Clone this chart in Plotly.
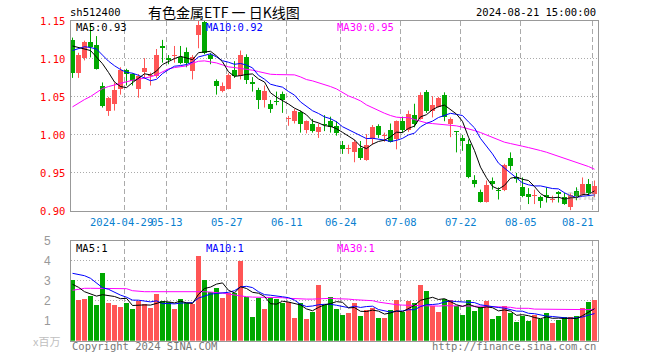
import plotly.graph_objects as go
import pandas as pd

# ---------------- data ----------------
days = {
    "2024-04": [16, 17, 18, 19, 22, 23, 24, 25, 26, 29, 30],
    "2024-05": [6, 7, 8, 9, 10, 13, 14, 15, 16, 17, 20, 21, 22, 23, 24, 27, 28, 29, 30, 31],
    "2024-06": [3, 4, 5, 6, 7, 11, 12, 13, 14, 17, 18, 19, 20, 21, 24, 25, 26, 27, 28],
    "2024-07": [1, 2, 3, 4, 5, 8, 9, 10, 11, 12, 15, 16, 17, 18, 19, 22, 23, 24, 25, 26, 29, 30, 31],
    "2024-08": [1, 2, 5, 6, 7, 8, 9, 12, 13, 14, 15, 16, 19, 20, 21],
}
dates = [f"{m}-{d:02d}" for m, ds in days.items() for d in ds]

open_ = [1.125, 1.081, 1.101, 1.122, 1.118, 1.065, 1.031, 1.041, 1.061, 1.085,
         1.080, 1.061, 1.083, 1.077, 1.078, 1.117, 1.101, 1.104, 1.103, 1.109,
         1.084, 1.132, 1.149, 1.105, 1.071, 1.058, 1.061, 1.086, 1.078, 1.103,
         1.070, 1.059, 1.046, 1.041, 1.044, 1.054, 1.021, 1.018, 1.030, 1.007,
         1.015, 1.004, 1.014, 1.018, 1.012, 0.987, 0.981, 0.977, 0.983, 0.967,
         0.994, 1.012, 0.998, 1.007, 0.994, 1.018, 1.006, 1.026, 1.021, 1.057,
         1.032, 1.037, 1.053, 1.014, 1.005, 0.996, 0.988, 0.941, 0.925, 0.912,
         0.939, 0.928, 0.927, 0.970, 0.944, 0.932, 0.922, 0.920, 0.918, 0.921,
         0.915, 0.925, 0.918, 0.905, 0.926, 0.921, 0.935, 0.922]
close = [1.082, 1.105, 1.122, 1.116, 1.087, 1.038, 1.048, 1.059, 1.086, 1.080,
         1.071, 1.077, 1.088, 1.079, 1.105, 1.114, 1.099, 1.105, 1.094, 1.094,
         1.103, 1.145, 1.108, 1.100, 1.064, 1.064, 1.079, 1.078, 1.105, 1.072,
         1.067, 1.046, 1.058, 1.034, 1.043, 1.046, 1.022, 1.031, 1.015, 1.018,
         1.005, 1.010, 1.013, 1.010, 1.003, 0.981, 0.982, 0.991, 0.969, 0.987,
         1.010, 1.000, 0.999, 0.991, 1.018, 1.007, 1.028, 1.014, 1.052, 1.032,
         1.040, 1.048, 1.024, 1.021, 1.004, 0.992, 0.944, 0.936, 0.912, 0.934,
         0.935, 0.926, 0.961, 0.959, 0.942, 0.920, 0.918, 0.921, 0.913, 0.918,
         0.916, 0.922, 0.909, 0.921, 0.920, 0.935, 0.923, 0.933]
high = [1.128, 1.108, 1.124, 1.146, 1.130, 1.069, 1.050, 1.069, 1.089, 1.087,
        1.081, 1.080, 1.101, 1.082, 1.113, 1.125, 1.105, 1.117, 1.117, 1.115,
        1.105, 1.150, 1.150, 1.108, 1.073, 1.069, 1.081, 1.097, 1.111, 1.106,
        1.076, 1.062, 1.065, 1.046, 1.057, 1.057, 1.025, 1.034, 1.032, 1.019,
        1.021, 1.015, 1.026, 1.024, 1.018, 0.992, 0.987, 0.994, 0.992, 1.001,
        1.013, 1.014, 1.003, 1.015, 1.019, 1.024, 1.032, 1.041, 1.056, 1.059,
        1.051, 1.050, 1.056, 1.023, 1.005, 1.000, 0.994, 0.947, 0.928, 0.940,
        0.944, 0.931, 0.962, 0.977, 0.950, 0.944, 0.930, 0.928, 0.920, 0.931,
        0.920, 0.926, 0.924, 0.923, 0.931, 0.944, 0.942, 0.940]
low = [1.075, 1.075, 1.098, 1.102, 1.086, 1.036, 1.025, 1.032, 1.053, 1.065,
       1.065, 1.049, 1.075, 1.065, 1.075, 1.095, 1.093, 1.095, 1.093, 1.089,
       1.073, 1.114, 1.106, 1.093, 1.053, 1.056, 1.060, 1.075, 1.073, 1.067,
       1.057, 1.034, 1.036, 1.029, 1.039, 1.029, 1.012, 1.015, 1.003, 1.002,
       1.003, 0.996, 1.005, 1.003, 0.999, 0.975, 0.975, 0.964, 0.967, 0.966,
       0.987, 0.996, 0.991, 0.990, 0.981, 1.003, 1.004, 1.010, 1.020, 1.029,
       1.023, 1.036, 1.018, 0.997, 0.977, 0.979, 0.943, 0.931, 0.911, 0.911,
       0.928, 0.915, 0.926, 0.953, 0.937, 0.918, 0.909, 0.909, 0.904, 0.911,
       0.911, 0.911, 0.908, 0.901, 0.914, 0.920, 0.920, 0.918]
volume = [3.03, 2.03, 2.08, 2.23, 1.78, 3.38, 1.88, 1.78, 1.68, 1.88,
          1.58, 1.98, 1.83, 1.63, 2.33, 1.98, 1.93, 1.58, 2.08, 1.88,
          1.83, 4.23, 3.03, 2.43, 2.63, 2.13, 2.38, 2.38, 3.98, 2.18,
          1.18, 2.15, 1.58, 2.15, 2.08, 1.90, 1.95, 1.13, 1.88, 1.08,
          1.45, 2.78, 1.78, 2.18, 1.58, 1.28, 1.38, 1.88, 1.23, 1.53,
          1.63, 1.13, 1.13, 1.52, 2.03, 1.43, 1.98, 1.88, 2.78, 2.48,
          1.73, 1.43, 2.08, 2.03, 1.73, 1.28, 2.03, 1.48, 1.68, 1.98,
          1.08, 1.23, 1.73, 1.38, 0.93, 1.23, 0.98, 1.28, 1.08, 1.38,
          0.88, 1.03, 1.18, 1.18, 1.23, 1.63, 1.93, 2.03]

# moving averages whose history lies before the window
ma5_head = [1.117, 1.115, 1.114, 1.111]
ma10_head = [1.111, 1.114, 1.116, 1.115, 1.113, 1.105, 1.097, 1.091, 1.086]
ma30 = [1.0369, 1.0421, 1.0465, 1.0505, 1.0562, 1.0610, 1.0636, 1.0658, 1.0676, 1.0697,
        1.0719, 1.0733, 1.0746, 1.0763, 1.0790, 1.0833, 1.0869, 1.0886, 1.0899, 1.0908,
        1.0943, 1.0969, 1.0974, 1.0965, 1.0947, 1.0921, 1.0895, 1.0886, 1.0877, 1.0864,
        1.0851, 1.0833, 1.0816, 1.0798, 1.0794, 1.0790, 1.0790, 1.0790, 1.0763, 1.0728,
        1.0711, 1.0689, 1.0667, 1.0636, 1.0605, 1.0557, 1.0513, 1.0483, 1.0448, 1.0395,
        1.0355, 1.0316, 1.0285, 1.0255, 1.0233, 1.0228, 1.0228, 1.0202, 1.0176, 1.0158,
        1.0149, 1.0141, 1.0136, 1.0132, 1.0119, 1.0101, 1.0083, 1.0057, 1.0031, 1.0000,
        0.9965, 0.9934, 0.9904, 0.9886, 0.9873, 0.9851, 0.9833, 0.9816, 0.9794, 0.9772,
        0.9746, 0.9719, 0.9693, 0.9671, 0.9641, 0.9614, 0.9584, 0.9548]
vma5_head = [2.82, 2.67, 2.45, 2.32]
vma10_head = [3.37, 3.32, 3.25, 3.12, 2.87, 2.65, 2.57, 2.42, 2.28]
vma30 = [2.52, 2.57, 2.62, 2.62, 2.62, 2.62, 2.62, 2.62, 2.62, 2.60,
         2.50, 2.47, 2.45, 2.45, 2.45, 2.45, 2.45, 2.45, 2.47, 2.47,
         2.48, 2.48, 2.45, 2.43, 2.42, 2.38, 2.33, 2.28, 2.23, 2.20,
         2.18, 2.18, 2.17, 2.17, 2.17, 2.15, 2.12, 2.10, 2.08, 2.08,
         2.08, 2.10, 2.12, 2.12, 2.10, 2.10, 2.08, 2.05, 2.03, 2.02,
         2.00, 1.93, 1.88, 1.83, 1.80, 1.78, 1.77, 1.75, 1.75, 1.73,
         1.73, 1.73, 1.75, 1.75, 1.75, 1.75, 1.73, 1.73, 1.72, 1.72,
         1.70, 1.70, 1.68, 1.67, 1.62, 1.62, 1.62, 1.58, 1.58, 1.57,
         1.57, 1.55, 1.55, 1.55, 1.55, 1.55, 1.55, 1.55]

tick_dates = ["2024-04-29", "2024-05-13", "2024-05-27", "2024-06-11", "2024-06-24",
              "2024-07-08", "2024-07-22", "2024-08-05", "2024-08-21"]
tick_labels = ["2024-04-29", "05-13", "05-27", "06-11", "06-24", "07-08", "07-22", "08-05", "08-21"]
price_ticks = [1.15, 1.10, 1.05, 1.00, 0.95, 0.90]
vol_ticks = [5, 4, 3, 2, 1]

# ---------------- derived ----------------
n = len(dates)
xs = list(range(n))


def rolling(vals, w, head):
    s = pd.Series(vals).rolling(w).mean().tolist()
    return head + s[len(head):]


ma5 = rolling(close, 5, ma5_head)
ma10 = rolling(close, 10, ma10_head)
vma5 = rolling(volume, 5, vma5_head)
vma10 = rolling(volume, 10, vma10_head)

RED = "#ff5555"
GREEN = "#00a800"
up = [c >= o for o, c in zip(open_, close)]
colors = [RED if u else GREEN for u in up]
body_base = [min(o, c) for o, c in zip(open_, close)]
body_h = [max(abs(c - o), 0.0013) for o, c in zip(open_, close)]

W, H = 660, 360
def px(x):
    return x / W
def py(y):
    return 1 - y / H

XL, XR = 70.7, 597.7
xrange_ = [-0.3, -0.3 + (XR - XL) / 6.0]
grid_x = [dates.index(d) - 0.3 for d in tick_dates]

fig = go.Figure()

# wicks
for col, flag in ((RED, True), (GREEN, False)):
    wx, wy = [], []
    for i in xs:
        if up[i] == flag:
            wx += [i, i, None]
            wy += [low[i], high[i], None]
    fig.add_trace(go.Scatter(x=wx, y=wy, mode="lines", line=dict(color=col, width=1),
                             hoverinfo="skip", showlegend=False, xaxis="x", yaxis="y"))

# bodies
fig.add_trace(go.Bar(x=xs, y=body_h, base=body_base, width=5 / 6,
                     marker=dict(color=colors, line=dict(width=0)),
                     showlegend=False, xaxis="x", yaxis="y"))

# price MAs
for vals, col in ((ma30, "#ff00ff"), (ma10, "#0000ff"), (ma5, "#000000")):
    fig.add_trace(go.Scatter(x=xs, y=vals, mode="lines", line=dict(color=col, width=1),
                             showlegend=False, xaxis="x", yaxis="y"))

# volume
fig.add_trace(go.Bar(x=xs, y=volume, width=5 / 6,
                     marker=dict(color=colors, line=dict(width=0)),
                     showlegend=False, xaxis="x2", yaxis="y2"))
for vals, col in ((vma30, "#ff00ff"), (vma10, "#0000ff"), (vma5, "#000000")):
    fig.add_trace(go.Scatter(x=xs, y=vals, mode="lines", line=dict(color=col, width=1),
                             showlegend=False, xaxis="x2", yaxis="y2"))

GRID = "#aaaaaa"
BORDER = "#999999"
axis_x = dict(domain=[px(XL), px(XR)], range=xrange_, tickvals=grid_x, showticklabels=False,
              ticks="", showgrid=True, gridcolor=GRID, griddash="5px,3px", gridwidth=1,
              zeroline=False, showline=True, mirror=True, linecolor=BORDER, linewidth=1,
              fixedrange=True)
fig.update_layout(
    width=W, height=H, margin=dict(l=0, r=0, t=0, b=0),
    paper_bgcolor="white", plot_bgcolor="white", barmode="overlay", bargap=0,
    showlegend=False,
    xaxis=dict(axis_x, anchor="y"),
    xaxis2=dict(axis_x, anchor="y2"),
    yaxis=dict(domain=[py(210.9), py(20.9)], range=[0.90, 1.15],
               tickvals=[1.10, 1.05, 1.00, 0.95], showticklabels=False, ticks="",
               showgrid=True, gridcolor=GRID, griddash="1px,2px", zeroline=False,
               showline=True, mirror=True, linecolor=BORDER, linewidth=1, anchor="x"),
    yaxis2=dict(domain=[py(340.7), py(240.7)], range=[0, 5],
                tickvals=[1, 2, 3, 4], showticklabels=False, ticks="",
                showgrid=True, gridcolor=GRID, griddash="1px,2px", zeroline=False,
                showline=True, mirror=True, linecolor=BORDER, linewidth=1, anchor="x2"),
)

MONO = "DejaVu Sans Mono"
ann = []


def text(t, x, y, color="#000000", size=10.5, family=MONO, xanchor="left", xref="paper",
         yref="paper", xshift=0):
    ann.append(dict(text=t, x=x, y=y, xref=xref, yref=yref, xanchor=xanchor, yanchor="middle",
                    xshift=xshift, showarrow=False, font=dict(family=family, size=size, color=color)))


# header
text("sh512400", px(68), py(12.5))
text("有色金属ETF 一 日K线图", px(224), py(12.5), size=14, family="Noto Sans CJK SC", xanchor="center")
text("2024-08-21 15:00:00", px(598), py(12.5), xanchor="right")

# price axis labels
for v in price_ticks:
    text(f"{v:.2f}", px(66.5), v, color="#ff0000", xanchor="right", yref="y")

# date labels
for d, lab in zip(tick_dates, tick_labels):
    i = dates.index(d) - 0.3
    shift = 0
    if d == tick_dates[-1]:
        shift = -15
    elif d == tick_dates[0]:
        shift = -3
    text(lab, i, py(222), color="#0a7fd0", xanchor="center", xref="x", xshift=shift)

# MA legends
text(f"MA5:{ma5[-1]:.2f}", px(74), py(27.5))
text(f"MA10:{ma10[-1]:.2f}", px(204), py(27.5), color="#0000ff")
text(f"MA30:{ma30[-1]:.2f}", px(334.5), py(27.5), color="#ff00ff")
text(f"MA5:{int(vma5[-1])}", px(74), py(247.5))
text(f"MA10:{int(vma10[-1])}", px(204), py(247.5), color="#0000ff")
text(f"MA30:{int(vma30[-1])}", px(334.5), py(247.5), color="#ff00ff")

# volume axis labels
for v in vol_ticks:
    text(str(v), px(53), v, color="#999999", size=12, family="Liberation Sans", xanchor="right", yref="y2")
text("x百万", px(62), py(340.5), color="#c0c0c0", size=11, family="Noto Sans CJK SC", xanchor="right")

# footer
text("Copyright 2024 SINA.COM", px(69.5), py(345.5), color="#777777")
text("http://finance.sina.com.cn", px(597.5), py(345.5), color="#777777", xanchor="right")

# watermark
ann.append(dict(text="<b><i>sina</i></b>", x=px(598), y=py(194), xref="paper", yref="paper",
                xanchor="right", yanchor="middle", showarrow=False,
                font=dict(family="Liberation Sans", size=15, color="rgba(150,150,150,0.35)")))

fig.update_layout(annotations=ann)
fig.write_html("out.html", config={"displayModeBar": False, "staticPlot": True},
               post_script="document.body.style.margin='0';document.body.style.overflow='hidden';")
